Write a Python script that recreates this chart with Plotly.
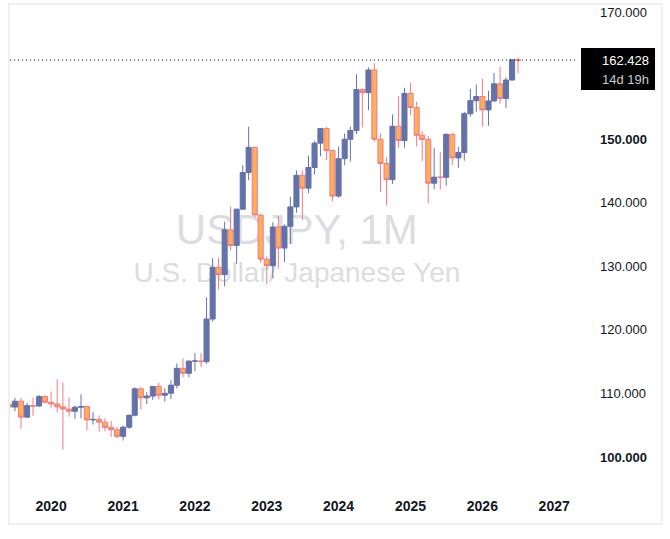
import plotly.graph_objects as go

# ---------------- data (monthly USDJPY) ----------------
months = [
    "2019-06-01", "2019-07-01", "2019-08-01", "2019-09-01", "2019-10-01", "2019-11-01", "2019-12-01",
    "2020-01-01", "2020-02-01", "2020-03-01", "2020-04-01", "2020-05-01", "2020-06-01",
    "2020-07-01", "2020-08-01", "2020-09-01", "2020-10-01", "2020-11-01", "2020-12-01",
    "2021-01-01", "2021-02-01", "2021-03-01", "2021-04-01", "2021-05-01", "2021-06-01",
    "2021-07-01", "2021-08-01", "2021-09-01", "2021-10-01", "2021-11-01", "2021-12-01",
    "2022-01-01", "2022-02-01", "2022-03-01", "2022-04-01", "2022-05-01", "2022-06-01",
    "2022-07-01", "2022-08-01", "2022-09-01", "2022-10-01", "2022-11-01", "2022-12-01",
    "2023-01-01", "2023-02-01", "2023-03-01", "2023-04-01", "2023-05-01", "2023-06-01",
    "2023-07-01", "2023-08-01", "2023-09-01", "2023-10-01", "2023-11-01", "2023-12-01",
    "2024-01-01", "2024-02-01", "2024-03-01", "2024-04-01", "2024-05-01", "2024-06-01",
    "2024-07-01", "2024-08-01", "2024-09-01", "2024-10-01", "2024-11-01", "2024-12-01",
    "2025-01-01", "2025-02-01", "2025-03-01", "2025-04-01", "2025-05-01", "2025-06-01",
    "2025-07-01", "2025-08-01", "2025-09-01", "2025-10-01", "2025-11-01", "2025-12-01",
    "2026-01-01", "2026-02-01", "2026-03-01", "2026-04-01", "2026-05-01", "2026-06-01",
    "2026-07-01",
]

opens = [
    108.26, 107.85, 108.77, 106.27, 108.08, 108.02, 109.50,
    108.61, 108.35, 107.89, 107.54, 107.19, 107.83, 107.93, 105.83, 105.91, 105.48, 104.66, 104.29,
    103.25, 104.68, 106.57, 110.72, 109.31, 109.58, 111.10, 109.71, 110.02, 111.29, 113.95, 113.17,
    115.08, 115.11, 115.00, 121.70, 129.84, 128.68, 135.73, 133.26, 138.98, 144.74, 148.71, 138.07,
    131.12, 130.09, 136.18, 132.86, 136.30, 139.34, 144.31, 142.29, 145.54, 149.37, 151.68, 148.20,
    141.04, 146.92, 149.98, 151.35, 157.80, 157.31, 160.88, 149.98, 146.17, 143.63, 152.03, 149.77,
    157.20, 154.97, 150.62, 149.96, 143.07, 144.02, 144.00, 150.75, 147.05, 147.90, 154.00, 156.05,
    156.70, 154.60, 156.00, 158.70, 156.40, 159.30, 162.50,
]

highs = [
    108.80, 109.31, 109.32, 108.48, 109.29, 109.73, 109.70,
    110.29, 112.23, 111.71, 109.38, 108.08, 109.85, 107.94, 107.05, 106.55, 106.11, 105.68, 104.75,
    104.94, 106.69, 110.97, 110.97, 110.20, 111.11, 111.66, 110.80, 112.08, 114.70, 115.52, 115.19,
    116.35, 116.34, 125.10, 131.26, 131.35, 137.00, 139.39, 139.08, 145.90, 151.95, 148.83, 138.18,
    131.58, 136.92, 137.91, 136.56, 140.93, 145.07, 145.07, 147.38, 149.71, 151.72, 151.91, 148.36,
    148.81, 150.89, 151.97, 160.21, 157.99, 161.27, 161.95, 150.89, 147.21, 153.88, 156.75, 158.08,
    158.87, 155.89, 151.30, 150.49, 148.65, 148.03, 150.91, 150.92, 148.80, 154.30, 157.90, 158.60,
    159.50, 157.60, 160.40, 161.40, 159.70, 162.60, 162.80,
]

lows = [
    106.78, 107.21, 104.46, 106.17, 106.50, 107.89, 108.42,
    107.65, 107.00, 101.18, 106.36, 105.99, 106.07, 104.19, 105.10, 104.00, 104.03, 103.18, 102.88,
    102.59, 104.41, 106.37, 107.47, 108.34, 108.95, 109.06, 108.72, 109.11, 110.82, 112.53, 112.56,
    113.47, 114.16, 114.65, 121.28, 126.36, 126.85, 132.51, 130.39, 138.91, 143.52, 137.68, 130.57,
    127.22, 128.08, 129.64, 130.63, 133.50, 138.43, 137.24, 141.51, 144.44, 147.32, 146.67, 140.25,
    140.81, 145.90, 146.48, 150.81, 151.86, 154.55, 149.62, 141.68, 139.58, 142.97, 148.65, 148.65,
    153.72, 148.85, 146.54, 139.89, 142.12, 142.10, 142.68, 145.90, 145.48, 146.60, 153.55, 154.30,
    152.00, 152.10, 155.90, 155.60, 154.90, 159.20, 160.40,
]

closes = [
    107.85, 108.77, 106.27, 108.08, 108.02, 109.50, 108.61,
    108.35, 107.89, 107.54, 107.19, 107.83, 107.93, 105.83, 105.91, 105.48, 104.66, 104.29, 103.25,
    104.68, 106.57, 110.72, 109.31, 109.58, 111.10, 109.71, 110.02, 111.29, 113.95, 113.17, 115.08,
    115.11, 115.00, 121.70, 129.84, 128.68, 135.73, 133.26, 138.98, 144.74, 148.71, 138.07, 131.12,
    130.09, 136.18, 132.86, 136.30, 139.34, 144.31, 142.29, 145.54, 149.37, 151.68, 148.20, 141.04,
    146.92, 149.98, 151.35, 157.80, 157.31, 160.88, 149.98, 146.17, 143.63, 152.03, 149.77, 157.20,
    154.97, 150.62, 149.96, 143.07, 144.02, 144.00, 150.75, 147.05, 147.90, 154.00, 156.05, 156.70,
    154.60, 156.00, 158.70, 156.40, 159.30, 162.50, 162.428,
]

year_ticks = ["2020-01-01", "2021-01-01", "2022-01-01", "2023-01-01",
              "2024-01-01", "2025-01-01", "2026-01-01", "2027-01-01"]
year_labels = ["2020", "2021", "2022", "2023", "2024", "2025", "2026", "2027"]

price_ticks = [100, 110, 120, 130, 140, 150, 170]
price_labels = ["<b>100.000</b>", "110.000", "120.000", "130.000", "140.000",
                "<b>150.000</b>", "170.000"]

last_price_text = "162.428"
countdown_text = "14d 19h"
watermark_title = "USDJPY, 1M"
watermark_sub = "U.S. Dollar/ Japanese Yen"

# ---------------- style ----------------
UP = "#6472AA"
DOWN_FILL = "#FDAE5F"
DOWN_LINE = "#F07B82"
TEXT = "#131722"
WM = "#dcdde1"
FONT = "Liberation Sans"

fig = go.Figure(
    go.Candlestick(
        x=months, open=opens, high=highs, low=lows, close=closes,
        increasing=dict(line=dict(color=UP, width=1), fillcolor=UP),
        decreasing=dict(line=dict(color=DOWN_LINE, width=1), fillcolor=DOWN_FILL),
        whiskerwidth=0,
        hoverinfo="skip",
        showlegend=False,
    )
)

last_close = closes[-1]

fig.update_layout(
    width=670, height=539,
    margin=dict(l=10, r=92, t=5, b=44),
    paper_bgcolor="white", plot_bgcolor="white",
    showlegend=False,
    boxgap=0.08, boxgroupgap=0.0,
    xaxis=dict(
        type="date",
        range=["2019-06-06", "2027-05-02"],
        tickvals=year_ticks, ticktext=year_labels,
        tickfont=dict(family=FONT, size=14, color=TEXT, weight="bold"),
        showgrid=False, zeroline=False, showline=False, ticks="",
        ticklabelstandoff=1,
        rangeslider=dict(visible=False),
        fixedrange=True,
    ),
    yaxis=dict(
        side="right",
        range=[94.02, 171.10],
        tickvals=price_ticks, ticktext=price_labels,
        tickfont=dict(family=FONT, size=13, color=TEXT),
        showgrid=False, zeroline=False, showline=False, ticks="",
        ticklabelstandoff=21,
        fixedrange=True,
    ),
    shapes=[
        # watermark (behind candles)
        dict(type="rect", xref="paper", yref="paper", x0=0.2, x1=0.81, y0=0.50, y1=0.60,
             line=dict(width=0), layer="below",
             label=dict(text=watermark_title, textposition="middle center",
                        font=dict(family=FONT, size=42, color=WM))),
        dict(type="rect", xref="paper", yref="paper", x0=0.1, x1=0.91, y0=0.42, y1=0.50,
             line=dict(width=0), layer="below",
             label=dict(text=watermark_sub, textposition="middle center",
                        font=dict(family=FONT, size=28, color=WM))),
        # last price dotted line
        dict(type="line", xref="paper", yref="y", x0=0, x1=1, y0=last_close, y1=last_close,
             line=dict(color=TEXT, width=1, dash="1px,3px")),
        # price label box
        dict(type="rect", xref="paper", yref="y", x0=1.0053, x1=1.1356, y0=157.73, y1=164.34,
             fillcolor="black", line=dict(width=0)),
        # outer frame
        dict(type="rect", xref="paper", yref="paper", x0=-0.0018, x1=1.148, y0=-0.059, y1=1.002,
             line=dict(color="#ececec", width=1.5)),
    ],
    annotations=[
        dict(xref="paper", yref="y", x=1.0845, y=last_close, text=last_price_text,
             showarrow=False, font=dict(family=FONT, size=13, color="white"),
             xanchor="center", yanchor="middle"),
        dict(xref="paper", yref="y", x=1.0845, y=159.46, text=countdown_text,
             showarrow=False, font=dict(family=FONT, size=13, color="#c8cad0"),
             xanchor="center", yanchor="middle"),
    ],
)

fig.write_html("out.html")
